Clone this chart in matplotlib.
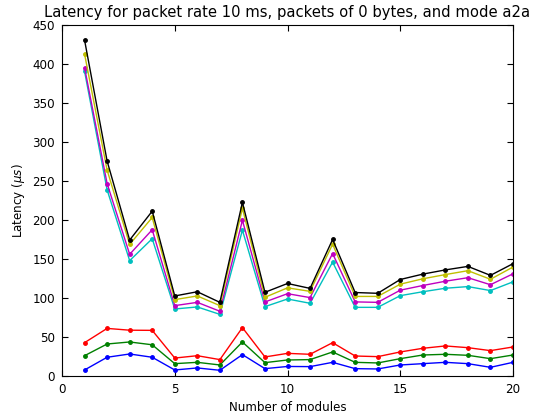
import matplotlib
matplotlib.use("Agg")
import matplotlib.pyplot as plt
import numpy as np

modules = np.arange(1, 21)

lat_b = [7.7, 24, 28.2, 24, 7.7, 10.3, 7.3, 27.4, 9.4, 12.2, 12, 17.5, 9.4, 9, 14.1, 15.8, 17.5, 15.8, 11.1, 17.5]
lat_g = [26, 41, 43.6, 40, 15.8, 17.5, 14.1, 43.6, 17.1, 20.5, 21, 30.8, 17.5, 16.7, 22.2, 26.9, 27.8, 26.5, 22.2, 26.9]
lat_r = [42.7, 61, 58.7, 58.5, 23, 26, 21, 62, 24.4, 29, 27.8, 42.7, 25.6, 24.8, 30.8, 35.5, 38.5, 36.3, 32.5, 37.2]
lat_c = [390.6, 238.6, 147.9, 176, 85.9, 88.5, 79, 187, 88.9, 98.7, 93.2, 146, 88, 88, 103, 108, 112.5, 114.6, 109.5, 120.7]
lat_m = [395.3, 246.7, 156, 187.5, 90.2, 94.4, 83, 199.6, 94.9, 105.5, 100.5, 157, 95, 94.4, 110, 116, 121.5, 126, 117, 131]
lat_y = [412.8, 264, 168.7, 203.2, 97.9, 102.6, 90.2, 215, 100.9, 113, 108.5, 169, 102, 102, 117.7, 124.6, 130, 135, 124, 139.7]
lat_k = [430.7, 275.6, 174.3, 211.3, 102.6, 108, 94.4, 222.6, 107.3, 118.6, 112.3, 175, 107, 106, 123.7, 130.6, 136, 140.5, 129, 144]

series = [lat_b, lat_g, lat_r, lat_c, lat_m, lat_y, lat_k]
colors = ["b", "g", "r", "c", "m", "y", "k"]

plt.rcParams["font.size"] = 8.6

fig = plt.figure(figsize=(5.35, 4.16), dpi=100)
ax = fig.add_axes([0.1159, 0.0962, 0.843, 0.8437])

for vals, col in zip(series, colors):
    ax.plot(modules, vals, color=col, marker=".", markersize=5, linewidth=1)

ax.set_xlim(0, 20)
ax.set_ylim(0, 450)
ax.set_xticks([0, 5, 10, 15, 20])
ax.set_yticks(np.arange(0, 451, 50))
ax.tick_params(direction="in", top=True, right=True, length=4, pad=5)
ax.set_xlabel("Number of modules")
ax.set_ylabel(r"Latency ($\mu s$)")
ax.set_title("Latency for packet rate 10 ms, packets of 0 bytes, and mode a2a", fontsize=10.6)

fig.savefig("out.png", dpi=100)
